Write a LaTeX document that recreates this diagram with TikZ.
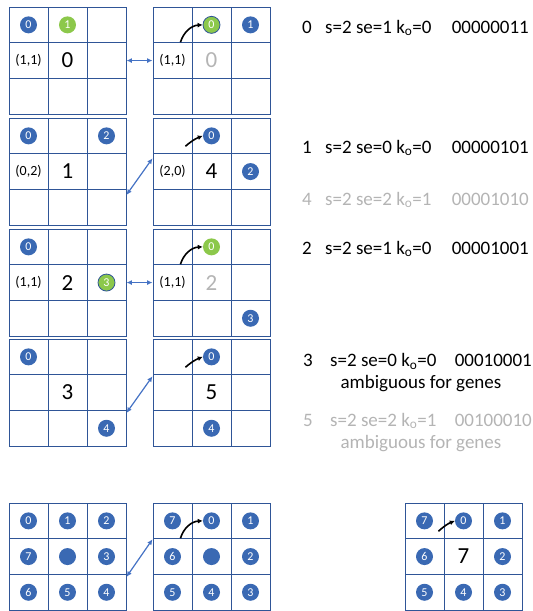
\documentclass[tikz,border=0pt]{standalone}
\usepackage{fontspec}
\setmainfont{Carlito}
\usepackage{tikz}
\usetikzlibrary{arrows.meta,calc}
\definecolor{gridblue}{HTML}{2F5597}
\definecolor{ballblue}{HTML}{3A69B3}
\definecolor{ballgreen}{HTML}{8CC84B}
\definecolor{fadegray}{HTML}{B4B4B4}
\definecolor{swapblue}{HTML}{4472C4}
\tikzset{
  cellbox/.style={draw=gridblue,line width=0.9pt,minimum width=39pt,minimum height=35.7pt,inner sep=0pt},
  blueball/.style={circle,fill=ballblue,text=white,inner sep=0pt,minimum size=17pt,font=\fontsize{12}{12}\selectfont},
  greenball/.style={blueball,fill=ballgreen},
  ringball/.style={greenball,draw=gridblue,line width=0.8pt},
  cellpos/.style={font=\fontsize{14}{14}\selectfont},
  cellnum/.style={font=\fontsize{23}{23}\selectfont},
  swapflow/.style={{Latex[length=5.5pt,width=5pt]}-{Latex[length=5.5pt,width=5pt]},swapblue,line width=1.2pt},
  hopflow/.style={-{Latex[length=5pt,width=5pt]},line width=1.6pt},
  rowtxt/.style={font=\fontsize{19}{19}\selectfont,inner sep=0pt,anchor=base west},
}
% 3x3 board: #1 name, (#2,#3) top left corner
\newcommand{\cellgrid}[3]{%
  \foreach \gr in {1,2,3}{%
    \foreach \gc in {1,2,3}{%
      \node[cellbox] (#1-\gr-\gc) at (#2+\gc*39-19.5, #3+\gr*35.7-17.85) {};
    }}}

\begin{document}
\begin{tikzpicture}[x=1pt,y=-1pt]
\useasboundingbox (0,0) rectangle (533,611);
 % boards
\cellgrid{g1l}{9}{7}   \cellgrid{g1r}{153}{7}
\cellgrid{g2l}{9}{118} \cellgrid{g2r}{153}{118}
\cellgrid{g3l}{9}{229} \cellgrid{g3r}{153}{229}
\cellgrid{g4l}{9}{339} \cellgrid{g4r}{153}{339}
\cellgrid{g5l}{9}{503} \cellgrid{g5r}{153}{503}
\cellgrid{g6}{405}{503}
 % case 0
\node[blueball] (g1l-b0) at (g1l-1-1) {0};
\node[greenball] (g1l-b1) at (g1l-1-2) {1};
\node[cellpos] (g1l-p) at (g1l-2-1) {(1,1)};
\node[cellnum] (g1l-n) at (g1l-2-2) {0};
\node[ringball] (g1r-b0) at (g1r-1-2) {0};
\node[blueball] (g1r-b1) at (g1r-1-3) {1};
\node[cellpos] (g1r-p) at (g1r-2-1) {(1,1)};
\node[cellnum,text=fadegray] (g1r-n) at (g1r-2-2) {0};
\draw[swapflow] (g1l-2-3.east) -- (g1r-2-1.west);
\draw[hopflow] ($(g1r-2-1.north east)+(-12,0)$) to[bend left=35] (g1r-b0.west);
 % case 1
\node[blueball] (g2l-b0) at (g2l-1-1) {0};
\node[blueball] (g2l-b2) at (g2l-1-3) {2};
\node[cellpos] (g2l-p) at (g2l-2-1) {(0,2)};
\node[cellnum] (g2l-n) at (g2l-2-2) {1};
\node[blueball] (g2r-b0) at (g2r-1-2) {0};
\node[cellpos] (g2r-p) at (g2r-2-1) {(2,0)};
\node[cellnum] (g2r-n) at (g2r-2-2) {4};
\node[blueball] (g2r-b2) at (g2r-2-3) {2};
\draw[swapflow] ($(g2l-3-3.north east)+(0,6)$) -- ($(g2r-2-1.north west)+(0,5)$);
\draw[hopflow] ($(g2r-2-1.north east)+(-7,-7)$) to[bend left=10] (g2r-b0.west);
 % case 2
\node[blueball] (g3l-b0) at (g3l-1-1) {0};
\node[cellpos] (g3l-p) at (g3l-2-1) {(1,1)};
\node[cellnum] (g3l-n) at (g3l-2-2) {2};
\node[ringball] (g3l-b3) at (g3l-2-3) {3};
\node[greenball] (g3r-b0) at (g3r-1-2) {0};
\node[cellpos] (g3r-p) at (g3r-2-1) {(1,1)};
\node[cellnum,text=fadegray] (g3r-n) at (g3r-2-2) {2};
\node[blueball] (g3r-b3) at (g3r-3-3) {3};
\draw[swapflow] (g3l-2-3.east) -- (g3r-2-1.west);
\draw[hopflow] ($(g3r-2-1.north east)+(-12,0)$) to[bend left=35] (g3r-b0.west);
 % case 3
\node[blueball] (g4l-b0) at (g4l-1-1) {0};
\node[cellnum] (g4l-n) at (g4l-2-2) {3};
\node[blueball] (g4l-b4) at (g4l-3-3) {4};
\node[blueball] (g4r-b0) at (g4r-1-2) {0};
\node[cellnum] (g4r-n) at (g4r-2-2) {5};
\node[blueball] (g4r-b4) at (g4r-3-2) {4};
\draw[swapflow] ($(g4l-3-3.north east)+(0,3)$) -- ($(g4r-2-1.north west)+(0,2)$);
\draw[hopflow] ($(g4r-2-1.north east)+(-7,-7)$) to[bend left=10] (g4r-b0.west);
 % full neighbourhood
\foreach \cell/\lab in {1-1/0,1-2/1,1-3/2,2-3/3,3-3/4,3-2/5,3-1/6,2-1/7}
  \node[blueball] (g5l-b\lab) at (g5l-\cell) {\lab};
\node[blueball] (g5l-mid) at (g5l-2-2) {};
\foreach \cell/\lab in {1-2/0,1-3/1,2-3/2,3-3/3,3-2/4,3-1/5,2-1/6,1-1/7}{
  \node[blueball] (g5r-b\lab) at (g5r-\cell) {\lab};
  \node[blueball] (g6-b\lab) at (g6-\cell) {\lab};
}
\node[blueball] (g5r-mid) at (g5r-2-2) {};
\node[cellnum] (g6-n) at (g6-2-2) {7};
\draw[swapflow] ($(g5l-3-3.north east)+(0,3)$) -- ($(g5r-2-1.north west)+(0,1)$);
\draw[hopflow] ($(g5r-2-1.north east)+(-12,0)$) to[bend left=35] (g5r-b0.west);
\draw[hopflow] ($(g6-2-1.north east)+(-6,-7)$) to[bend left=10] (g6-b0.west);
 % codes
\node[rowtxt] (r0-i) at (302,33) {0};
\node[rowtxt] (r0-p) at (325,33) {s=2 se=1 k\textsubscript{o}=0};
\node[rowtxt,anchor=base east] (r0-c) at (529,33) {00000011};
\node[rowtxt] (r1-i) at (302,153) {1};
\node[rowtxt] (r1-p) at (325,153) {s=2 se=0 k\textsubscript{o}=0};
\node[rowtxt,anchor=base east] (r1-c) at (529,153) {00000101};
\node[rowtxt,text=fadegray] (r4-i) at (302,205) {4};
\node[rowtxt,text=fadegray] (r4-p) at (325,205) {s=2 se=2 k\textsubscript{o}=1};
\node[rowtxt,text=fadegray,anchor=base east] (r4-c) at (529,205) {00001010};
\node[rowtxt] (r2-i) at (302,254) {2};
\node[rowtxt] (r2-p) at (325,254) {s=2 se=1 k\textsubscript{o}=0};
\node[rowtxt,anchor=base east] (r2-c) at (529,254) {00001001};
\node[rowtxt] (r3-i) at (303,366.5) {3};
\node[rowtxt] (r3-p) at (330,366.5) {s=2 se=0 k\textsubscript{o}=0};
\node[rowtxt,anchor=base east] (r3-c) at (532,366.5) {00010001};
\node[rowtxt,anchor=base] (r3-a) at (421,388) {ambiguous for genes};
\node[rowtxt,text=fadegray] (r5-i) at (303,426) {5};
\node[rowtxt,text=fadegray] (r5-p) at (330,426) {s=2 se=2 k\textsubscript{o}=1};
\node[rowtxt,text=fadegray,anchor=base east] (r5-c) at (532,426) {00100010};
\node[rowtxt,text=fadegray,anchor=base] (r5-a) at (421,448) {ambiguous for genes};
\end{tikzpicture}
\end{document}
